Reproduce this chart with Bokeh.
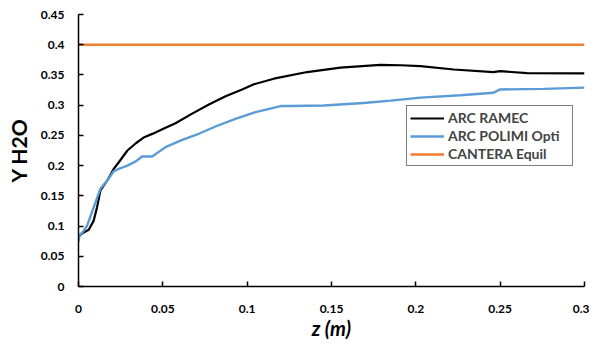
from bokeh.plotting import figure
from bokeh.models import Range1d, FixedTicker, Legend, LegendItem
from bokeh.embed import file_html
from bokeh.resources import INLINE

# --- data ---
ramec_z = [0.0, 0.0022, 0.0061, 0.009, 0.011, 0.013, 0.017, 0.021, 0.024, 0.029,
           0.034, 0.039, 0.0437, 0.0516, 0.0575, 0.0674, 0.0773, 0.0872, 0.097,
           0.104, 0.1158, 0.1356, 0.1553, 0.179, 0.191, 0.2028, 0.2225, 0.246,
           0.250, 0.266, 0.3]
ramec_y = [0.083, 0.088, 0.094, 0.109, 0.131, 0.159, 0.175, 0.195, 0.206, 0.225,
           0.237, 0.247, 0.2525, 0.2625, 0.270, 0.286, 0.301, 0.3146, 0.326,
           0.3345, 0.3438, 0.3548, 0.362, 0.3665, 0.366, 0.3645, 0.359, 0.3548,
           0.3562, 0.353, 0.3525]

polimi_z = [0.0, 0.0006, 0.0025, 0.005, 0.009, 0.013, 0.017, 0.021, 0.025, 0.029, 0.034,
            0.0377, 0.0437, 0.0516, 0.0615, 0.0713, 0.0812, 0.093, 0.105, 0.1198,
            0.1257, 0.1454, 0.169, 0.185, 0.2028, 0.2265, 0.246, 0.250, 0.2759, 0.3]
polimi_y = [0.074, 0.085, 0.09, 0.100, 0.131, 0.162, 0.175, 0.191, 0.196, 0.200, 0.207,
            0.215, 0.215, 0.2306, 0.2427, 0.2527, 0.2647, 0.2774, 0.2886, 0.2985,
            0.2985, 0.2995, 0.3035, 0.3075, 0.3125, 0.3165, 0.3205, 0.326, 0.327, 0.329]

cantera_z = [0.0, 0.3]
cantera_y = [0.4, 0.4]

x_ticks = [0, 0.05, 0.1, 0.15, 0.2, 0.25, 0.3]
x_tick_labels = ["0", "0.05", "0.1", "0.15", "0.2", "0.25", "0.3"]
y_ticks = [0, 0.05, 0.1, 0.15, 0.2, 0.25, 0.3, 0.35, 0.4, 0.45]
y_tick_labels = ["0", "0.05", "0.1", "0.15", "0.2", "0.25", "0.3", "0.35", "0.4", "0.45"]

series_names = ["ARC RAMEC", "ARC POLIMI Opti", "CANTERA Equil"]
colors = ["#000000", "#5B9BD5", "#ED7D31"]

FONT = "Lato"

p = figure(width=589, height=343, output_backend="svg", toolbar_location=None,
           x_range=Range1d(0, 0.3), y_range=Range1d(0, 0.45),
           min_border_left=78, min_border_right=5, min_border_top=14,
           min_border_bottom=57)
p.outline_line_color = None
p.grid.visible = False
p.background_fill_color = "white"
p.border_fill_color = "white"

r1 = p.line(ramec_z, ramec_y, line_color=colors[0], line_width=2.2)
r2 = p.line(polimi_z, polimi_y, line_color=colors[1], line_width=2.4)
r3 = p.line(cantera_z, cantera_y, line_color=colors[2], line_width=2.4)

for ax, ticks, labels in ((p.xaxis[0], x_ticks, x_tick_labels),
                          (p.yaxis[0], y_ticks, y_tick_labels)):
    ax.ticker = FixedTicker(ticks=ticks)
    ax.major_label_overrides = {t: l for t, l in zip(ticks, labels)}
    ax.minor_tick_line_color = None
    ax.major_tick_in = 5
    ax.major_tick_out = 0
    ax.axis_line_color = "black"
    ax.axis_line_width = 1.5
    ax.major_tick_line_color = "black"
    ax.major_tick_line_width = 1.5
    ax.major_label_text_font = FONT
    ax.major_label_text_font_style = "bold"
    ax.major_label_text_font_size = "12px"
    ax.major_label_text_color = "#000000"
    ax.axis_label_text_font = FONT
    ax.axis_label_text_color = "#000000"

p.xaxis.major_label_standoff = 18
p.yaxis.major_label_standoff = 14
p.xaxis.axis_label = "z (m)"
p.xaxis.axis_label_text_font_style = "bold italic"
p.xaxis.axis_label_text_font_size = "20px"
p.xaxis.axis_label_standoff = 0
p.yaxis.axis_label = "Y H2O"
p.yaxis.axis_label_text_font_style = "bold"
p.yaxis.axis_label_text_font_size = "21px"
p.yaxis.axis_label_standoff = 7

legend = Legend(items=[LegendItem(label=series_names[0], renderers=[r1]),
                       LegendItem(label=series_names[1], renderers=[r2]),
                       LegendItem(label=series_names[2], renderers=[r3])],
                location=(328, 120))
legend.border_line_color = "black"
legend.border_line_width = 1.2
legend.background_fill_alpha = 1
legend.label_text_font = FONT
legend.label_text_font_style = "bold"
legend.label_text_font_size = "14px"
legend.glyph_width = 34
legend.glyph_height = 16
legend.label_height = 16
legend.label_width = 121
legend.label_standoff = 4
legend.spacing = 1
legend.padding = 3
legend.margin = 0
p.add_layout(legend, "center")

open("out.html", "w").write(file_html(p, INLINE))
